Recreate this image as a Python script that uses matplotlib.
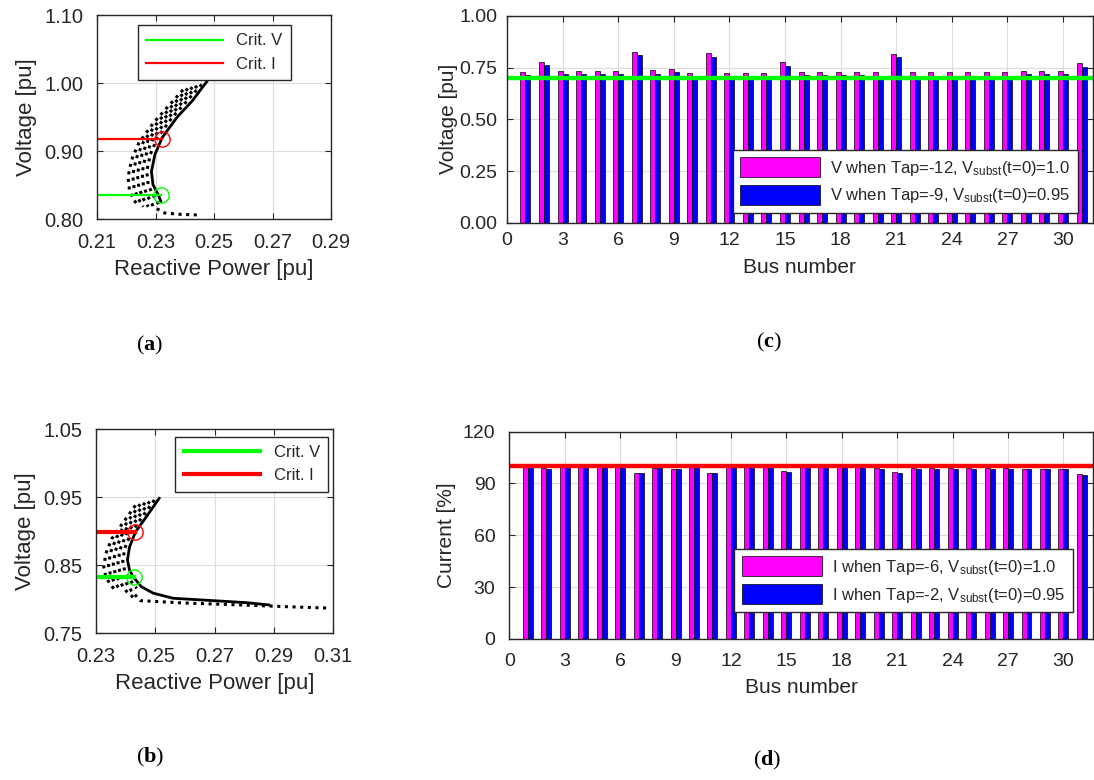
import matplotlib
matplotlib.use('Agg')
import matplotlib.pyplot as plt

plt.rcParams['font.family'] = ['Liberation Sans', 'DejaVu Sans']
plt.rcParams['mathtext.fontset'] = 'custom'
plt.rcParams['mathtext.rm'] = 'Liberation Sans'
plt.rcParams['mathtext.it'] = 'Liberation Sans:italic'
plt.rcParams['mathtext.bf'] = 'Liberation Serif:bold'
plt.rcParams['text.color'] = '#262626'
plt.rcParams['axes.labelcolor'] = '#262626'
plt.rcParams['xtick.color'] = '#262626'
plt.rcParams['ytick.color'] = '#262626'

# ---- panel (a): PV curves, Vsubst=1.0 ----
a_solid_q = [0.2475, 0.2426, 0.2374, 0.2323, 0.2298, 0.2286, 0.2291, 0.2311, 0.2318]
a_solid_v = [1.002, 0.974, 0.950, 0.920, 0.895, 0.870, 0.851, 0.834, 0.826]
a_dots_q = [
    [0.2458, 0.2410, 0.2358, 0.2307, 0.2282, 0.2270, 0.2275, 0.2292, 0.2310],
    [0.2442, 0.2394, 0.2342, 0.2291, 0.2266, 0.2254, 0.2259, 0.2275, 0.2293, 0.2330, 0.2380, 0.2441],
    [0.2426, 0.2378, 0.2326, 0.2275, 0.2250, 0.2238, 0.2243, 0.2258, 0.2275],
    [0.2410, 0.2362, 0.2310, 0.2259, 0.2234, 0.2222, 0.2227, 0.2242, 0.2258],
    [0.2394, 0.2346, 0.2294, 0.2243, 0.2218, 0.2206, 0.2211, 0.2226, 0.2240],
]
a_dots_v = [
    [0.998, 0.975, 0.950, 0.920, 0.895, 0.870, 0.850, 0.835, 0.822],
    [0.996, 0.973, 0.948, 0.918, 0.893, 0.868, 0.848, 0.832, 0.818, 0.809, 0.807, 0.806],
    [0.994, 0.971, 0.946, 0.916, 0.891, 0.866, 0.846, 0.830, 0.818],
    [0.992, 0.969, 0.944, 0.914, 0.889, 0.864, 0.844, 0.829, 0.818],
    [0.990, 0.967, 0.942, 0.912, 0.887, 0.862, 0.842, 0.828, 0.820],
]
a_crit_v = (0.2318, 0.835)
a_crit_i = (0.2323, 0.918)

# ---- panel (b): PV curves, Vsubst=0.95 ----
b_solid_q = [0.2513, 0.2470, 0.2433, 0.2413, 0.2406, 0.2413, 0.2427, 0.2453, 0.2493, 0.2560, 0.2696, 0.2809, 0.2883]
b_solid_v = [0.9485, 0.9215, 0.899, 0.877, 0.858, 0.843, 0.832, 0.8185, 0.809, 0.8015, 0.798, 0.795, 0.7917]
b_dots_q = [
    [0.2497, 0.2454, 0.2417, 0.2397, 0.2390, 0.2397, 0.2412, 0.2437],
    [0.2481, 0.2438, 0.2401, 0.2381, 0.2374, 0.2381, 0.2396, 0.2420, 0.2450, 0.2600, 0.2800, 0.2950, 0.3090],
    [0.2465, 0.2422, 0.2385, 0.2365, 0.2358, 0.2365, 0.2380, 0.2402, 0.2425],
    [0.2449, 0.2406, 0.2369, 0.2349, 0.2342, 0.2349, 0.2364, 0.2385],
    [0.2433, 0.2390, 0.2353, 0.2333, 0.2326, 0.2333, 0.2348, 0.2365],
]
b_dots_v = [
    [0.946, 0.920, 0.897, 0.875, 0.856, 0.841, 0.830, 0.816],
    [0.944, 0.918, 0.895, 0.873, 0.854, 0.839, 0.828, 0.812, 0.798, 0.7945, 0.7915, 0.789, 0.787],
    [0.942, 0.916, 0.893, 0.871, 0.852, 0.837, 0.826, 0.812, 0.803],
    [0.940, 0.914, 0.891, 0.869, 0.850, 0.835, 0.824, 0.812],
    [0.938, 0.912, 0.889, 0.867, 0.848, 0.833, 0.822, 0.813],
]
b_crit_v = (0.2427, 0.833)
b_crit_i = (0.2433, 0.899)

# ---- panel (c) / (d): bus values ----
bus = list(range(1, 32))
v_tap12 = [0.730, 0.779, 0.734, 0.734, 0.734, 0.734, 0.826, 0.737, 0.742, 0.724,
           0.820, 0.724, 0.724, 0.724, 0.776, 0.730, 0.730, 0.730, 0.730, 0.727,
           0.818, 0.727, 0.727, 0.727, 0.727, 0.727, 0.727, 0.732, 0.732, 0.732, 0.771]
v_tap9 = [0.715, 0.763, 0.721, 0.721, 0.721, 0.721, 0.810, 0.721, 0.729, 0.698,
          0.802, 0.698, 0.698, 0.698, 0.758, 0.715, 0.714, 0.714, 0.714, 0.712,
          0.802, 0.712, 0.712, 0.712, 0.712, 0.712, 0.712, 0.719, 0.719, 0.719, 0.755]
v_limit = 0.70
i_tap6 = [99.7, 98.8, 99.5, 99.5, 99.5, 99.5, 95.9, 98.8, 98.4, 99.5,
          95.9, 99.5, 99.5, 99.5, 97.2, 99.5, 99.5, 99.5, 99.5, 98.7,
          96.6, 98.7, 98.7, 98.7, 98.7, 98.7, 98.7, 98.3, 98.3, 98.3, 95.3]
i_tap2 = [99.7, 98.2, 99.5, 99.5, 99.5, 99.5, 95.9, 98.8, 98.2, 99.5,
          95.9, 99.5, 99.5, 99.5, 96.9, 99.5, 99.5, 99.5, 99.5, 98.4,
          96.3, 98.3, 98.3, 98.3, 98.3, 98.3, 98.3, 98.3, 98.3, 98.3, 94.9]
i_limit = 100

GREEN = '#00ff00'
RED = '#ff0000'
MAGENTA = '#ff00ff'
BLUE = '#0000ff'
DOTS = (0, (1, 1.5))


def style_axes(ax, tick_size, pad):
    ax.grid(True, color='#dcdcdc', linewidth=0.8)
    ax.set_axisbelow(True)
    ax.tick_params(direction='in', top=True, right=True, length=4,
                   labelsize=tick_size, width=0.8, pad=pad)
    for s in ax.spines.values():
        s.set_color('#262626')
        s.set_linewidth(1.0)


def pv_panel(ax, sq, sv, dq, dv, cv, ci, xlim, ylim, xticks, yticks, lw_crit, anchor):
    for q, v in zip(dq, dv):
        ax.plot(q, v, color='black', linestyle=DOTS, linewidth=2.2)
    ax.plot(sq, sv, color='black', linewidth=2.0)
    ax.plot([xlim[0], cv[0]], [cv[1], cv[1]], color=GREEN, linewidth=lw_crit, label='Crit. V')
    ax.plot([xlim[0], ci[0]], [ci[1], ci[1]], color=RED, linewidth=lw_crit, label='Crit. I')
    ax.plot(cv[0], cv[1], 'o', mfc='none', mec=GREEN, ms=11, mew=1)
    ax.plot(ci[0], ci[1], 'o', mfc='none', mec=RED, ms=11, mew=1)
    ax.set_xlim(*xlim)
    ax.set_ylim(*ylim)
    ax.set_xticks(xticks)
    ax.set_yticks(yticks)
    ax.set_xticklabels([f'{t:.2f}' for t in xticks])
    ax.set_yticklabels([f'{t:.2f}' for t in yticks])
    ax.set_xlabel('Reactive Power [pu]', fontsize=16, labelpad=5)
    ax.set_ylabel('Voltage [pu]', fontsize=16, labelpad=5)
    style_axes(ax, 14.5, 10)
    leg = ax.legend(loc='upper right', bbox_to_anchor=anchor, fontsize=12,
                    handlelength=4.6, fancybox=False, framealpha=1,
                    edgecolor='#262626', borderpad=0.5, labelspacing=0.5,
                    borderaxespad=0)
    leg.get_frame().set_linewidth(1.0)


def bar_panel(ax, y1, y2, lab1, lab2, limit, limcol, ylim, yticks, fmt, ylabel,
              anchor, pad, ylpad):
    w = 0.27
    ax.bar([b - w / 2 for b in bus], y1, width=w, color=MAGENTA, edgecolor='black',
           linewidth=0.5, label=lab1)
    ax.bar([b + w / 2 for b in bus], y2, width=w, color=BLUE, edgecolor='black',
           linewidth=0.5, label=lab2)
    ax.axhline(limit, color=limcol, linewidth=3.2)
    ax.set_xlim(0, 31.6)
    ax.set_ylim(*ylim)
    ax.set_xticks(range(0, 31, 3))
    ax.set_yticks(yticks)
    ax.set_yticklabels([fmt.format(t) for t in yticks])
    ax.set_xlabel('Bus number', fontsize=15, labelpad=6)
    ax.set_ylabel(ylabel, fontsize=15, labelpad=ylpad)
    style_axes(ax, 14, pad)
    leg = ax.legend(loc='lower right', bbox_to_anchor=anchor, fontsize=12,
                    handlelength=4.8, handleheight=1.45, fancybox=False, framealpha=1,
                    edgecolor='#262626', borderpad=0.45, labelspacing=0.45,
                    borderaxespad=0, handletextpad=0.6)
    leg.get_frame().set_linewidth(1.0)
    leg.set_zorder(5)


fig = plt.figure(figsize=(10.94, 7.8), dpi=100)

ax_a = fig.add_axes([0.0887, 0.7192, 0.2139, 0.2615])
pv_panel(ax_a, a_solid_q, a_solid_v, a_dots_q, a_dots_v, a_crit_v, a_crit_i,
         (0.21, 0.29), (0.80, 1.10), [0.21, 0.23, 0.25, 0.27, 0.29],
         [0.80, 0.90, 1.00, 1.10], 1.6, (0.829, 0.951))

ax_b = fig.add_axes([0.0878, 0.1881, 0.2166, 0.2615])
pv_panel(ax_b, b_solid_q, b_solid_v, b_dots_q, b_dots_v, b_crit_v, b_crit_i,
         (0.23, 0.31), (0.75, 1.05), [0.23, 0.25, 0.27, 0.29, 0.31],
         [0.75, 0.85, 0.95, 1.05], 3.0, (0.98, 0.964))

ax_c = fig.add_axes([0.4634, 0.7145, 0.5354, 0.265])
bar_panel(ax_c, v_tap12, v_tap9,
          r'V when Tap=-12, V$_{\mathrm{subst}}$(t=0)=1.0',
          r'V when Tap=-9, V$_{\mathrm{subst}}$(t=0)=0.95',
          v_limit, GREEN, (0, 1.0), [0, 0.25, 0.5, 0.75, 1.0], '{:.2f}',
          'Voltage [pu]', (0.975, 0.047), 7, 1)

ax_d = fig.add_axes([0.4655, 0.1808, 0.5336, 0.2658])
bar_panel(ax_d, i_tap6, i_tap2,
          r'I when Tap=-6, V$_{\mathrm{subst}}$(t=0)=1.0',
          r'I when Tap=-2, V$_{\mathrm{subst}}$(t=0)=0.95',
          i_limit, RED, (0, 120), [0, 30, 60, 90, 120], '{:.0f}',
          'Current [%]', (0.965, 0.13), 10, 5)

for x, y, s in [(0.137, 0.551, 'a'), (0.703, 0.554, 'c'),
                (0.137, 0.022, 'b'), (0.701, 0.019, 'd')]:
    fig.text(x, y, '(' + r'$\mathbf{' + s + '}$' + ')', fontsize=16,
             family='Liberation Serif', ha='center', va='baseline', color='black')

fig.savefig('out.png', dpi=100)
